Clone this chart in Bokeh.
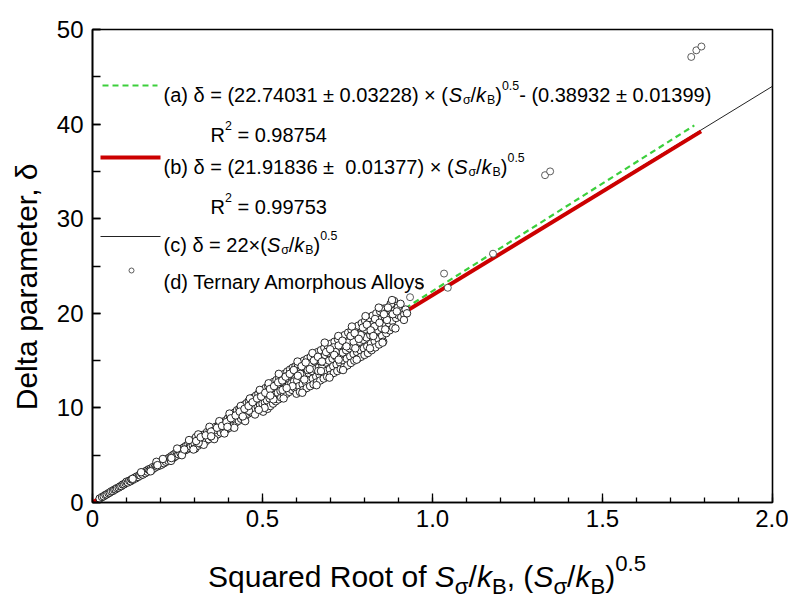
from bokeh.plotting import figure
from bokeh.models import Label, Range1d, FixedTicker, Div
from bokeh.layouts import column
from bokeh.embed import file_html
from bokeh.resources import INLINE

# ---------------- data ----------------
cluster_x = [
    0.021, 0.028, 0.033, 0.038, 0.042, 0.047, 0.051, 0.055, 0.060, 0.064, 0.068, 0.072, 0.077, 0.081, 0.085, 0.089, 0.093, 0.097, 0.100, 0.104,
    0.108, 0.112, 0.115, 0.119, 0.123, 0.127, 0.130, 0.134, 0.138, 0.141, 0.145, 0.148, 0.152, 0.155, 0.158, 0.162, 0.165, 0.168, 0.172, 0.175,
    0.178, 0.182, 0.186, 0.190, 0.194, 0.197, 0.200, 0.203, 0.206, 0.210, 0.213, 0.216, 0.220, 0.223, 0.226, 0.229, 0.232, 0.235, 0.238, 0.241,
    0.244, 0.247, 0.250, 0.253, 0.256, 0.259, 0.262, 0.265, 0.268, 0.271, 0.274, 0.277, 0.280, 0.283, 0.286, 0.289, 0.292, 0.295, 0.298, 0.300,
    0.302, 0.304, 0.307, 0.310, 0.312, 0.315, 0.318, 0.320, 0.323, 0.326, 0.329, 0.331, 0.334, 0.337, 0.340, 0.342, 0.345, 0.348, 0.351, 0.354,
    0.357, 0.360, 0.362, 0.365, 0.368, 0.371, 0.374, 0.377, 0.380, 0.383, 0.386, 0.389, 0.392, 0.395, 0.398, 0.400, 0.402, 0.404, 0.406, 0.409,
    0.411, 0.413, 0.416, 0.418, 0.420, 0.423, 0.425, 0.427, 0.430, 0.432, 0.434, 0.437, 0.439, 0.441, 0.444, 0.446, 0.448, 0.451, 0.453, 0.455,
    0.458, 0.460, 0.462, 0.465, 0.467, 0.469, 0.472, 0.474, 0.476, 0.479, 0.481, 0.483, 0.486, 0.488, 0.490, 0.493, 0.495, 0.497, 0.500, 0.502,
    0.503, 0.505, 0.507, 0.509, 0.511, 0.513, 0.515, 0.517, 0.519, 0.521, 0.523, 0.525, 0.527, 0.529, 0.531, 0.533, 0.535, 0.537, 0.539, 0.541,
    0.543, 0.545, 0.547, 0.549, 0.551, 0.553, 0.555, 0.557, 0.559, 0.561, 0.563, 0.565, 0.567, 0.569, 0.571, 0.573, 0.575, 0.577, 0.579, 0.581,
    0.583, 0.585, 0.587, 0.589, 0.591, 0.593, 0.595, 0.597, 0.599, 0.600, 0.602, 0.604, 0.606, 0.608, 0.610, 0.612, 0.614, 0.616, 0.618, 0.620,
    0.622, 0.624, 0.626, 0.628, 0.630, 0.632, 0.634, 0.636, 0.638, 0.640, 0.642, 0.644, 0.646, 0.648, 0.650, 0.652, 0.654, 0.656, 0.658, 0.660,
    0.662, 0.664, 0.666, 0.668, 0.670, 0.672, 0.674, 0.676, 0.678, 0.680, 0.682, 0.684, 0.686, 0.688, 0.690, 0.692, 0.694, 0.696, 0.698, 0.700,
    0.702, 0.704, 0.706, 0.708, 0.710, 0.712, 0.714, 0.716, 0.718, 0.720, 0.722, 0.724, 0.726, 0.728, 0.730, 0.732, 0.734, 0.736, 0.738, 0.740,
    0.742, 0.744, 0.746, 0.748, 0.750, 0.752, 0.754, 0.756, 0.758, 0.760, 0.762, 0.764, 0.766, 0.768, 0.770, 0.772, 0.774, 0.776, 0.778, 0.780,
    0.782, 0.784, 0.786, 0.788, 0.790, 0.792, 0.794, 0.796, 0.798, 0.800, 0.802, 0.804, 0.806, 0.808, 0.810, 0.813, 0.815, 0.817, 0.819, 0.821,
    0.824, 0.826, 0.828, 0.830, 0.832, 0.835, 0.837, 0.839, 0.841, 0.843, 0.846, 0.848, 0.850, 0.852, 0.855, 0.858, 0.860, 0.862, 0.864, 0.867,
    0.870, 0.872, 0.874, 0.877, 0.880, 0.882, 0.884, 0.887, 0.890, 0.893, 0.896, 0.900, 0.904, 0.908, 0.912, 0.917, 0.921, 0.848, 0.878, 0.898,
    0.916, 0.925,
    0.118, 0.143, 0.171, 0.188, 0.207, 0.231, 0.249, 0.263, 0.284, 0.297, 0.311, 0.327, 0.344, 0.358, 0.373, 0.388, 0.403, 0.417, 0.436, 0.449,
    0.463, 0.478, 0.492, 0.506, 0.518, 0.532, 0.548, 0.562, 0.576, 0.588, 0.603, 0.617, 0.633, 0.647, 0.659, 0.671, 0.683, 0.697, 0.709, 0.723,
    0.737, 0.751, 0.763, 0.777, 0.789, 0.803, 0.816, 0.829, 0.842, 0.853, 0.866, 0.881, 0.891, 0.906, 0.559, 0.611, 0.664, 0.715, 0.768, 0.820,
    0.460, 0.410, 0.357, 0.312, 0.270, 0.232, 0.191,
    0.305, 0.318, 0.333, 0.349, 0.366, 0.381, 0.394, 0.407, 0.421, 0.433, 0.447, 0.459, 0.471, 0.484, 0.496, 0.508, 0.522, 0.534, 0.546, 0.558,
    0.568, 0.580, 0.592, 0.604, 0.615, 0.627, 0.639, 0.651, 0.663, 0.675, 0.687, 0.699, 0.711, 0.724, 0.735, 0.747, 0.759, 0.771, 0.783, 0.795,
    0.807, 0.818, 0.831, 0.844, 0.857, 0.869, 0.883, 0.895, 0.523, 0.571, 0.623, 0.672, 0.724, 0.773, 0.826, 0.861, 0.489, 0.442, 0.397, 0.349,
]
cluster_y = [
    0.42, 0.58, 0.66, 0.80, 0.86, 0.98, 1.05, 1.18, 1.22, 1.36, 1.40, 1.52, 1.58, 1.70, 1.74, 1.90, 1.92, 2.05, 2.20, 2.12,
    2.30, 2.25, 2.45, 2.40, 2.60, 2.55, 2.75, 2.70, 2.90, 2.85, 3.05, 2.95, 3.20, 3.10, 3.35, 3.25, 3.50, 3.40, 3.60, 3.45,
    3.75, 3.65, 3.90, 3.80, 4.05, 3.90, 4.20, 4.00, 4.35, 4.15, 4.50, 4.30, 4.60, 4.40, 4.75, 4.55, 4.90, 4.65, 5.05, 4.80,
    5.20, 4.95, 5.35, 5.10, 5.50, 5.20, 5.65, 5.35, 5.80, 5.50, 5.95, 5.60, 6.10, 5.75, 6.25, 5.90, 6.45, 6.05, 6.60, 6.25,
    5.70, 6.90, 6.40, 6.00, 6.75, 6.50, 6.20, 7.10, 6.70, 6.35, 7.20, 6.85, 6.50, 7.45, 7.00, 6.70, 7.60, 7.20, 6.90, 7.80,
    7.35, 7.00, 8.00, 7.55, 7.20, 8.20, 7.75, 7.40, 8.45, 7.95, 7.55, 8.60, 8.15, 7.75, 8.90, 8.35, 7.90, 9.10, 8.60, 8.10,
    9.30, 8.75, 8.30, 9.50, 8.95, 8.50, 9.75, 9.10, 8.65, 9.90, 9.30, 8.85, 10.10, 9.50, 9.00, 10.30, 9.70, 9.20, 10.50, 9.90,
    9.40, 10.75, 10.10, 9.55, 10.90, 10.30, 9.75, 11.10, 10.50, 9.95, 11.30, 10.65, 10.10, 11.50, 10.85, 10.30, 11.70, 11.00, 10.45, 9.60,
    11.90, 11.20, 10.60, 12.10, 11.40, 10.80, 9.90, 12.30, 11.60, 11.00, 10.20, 12.50, 11.80, 11.20, 10.45, 12.75, 12.00, 11.40, 10.70, 12.95,
    12.20, 11.60, 10.90, 13.20, 12.45, 11.80, 11.10, 13.40, 12.70, 12.00, 11.30, 13.60, 12.90, 12.20, 11.50, 13.85, 13.10, 12.40, 11.70, 14.05,
    13.30, 12.60, 11.90, 14.25, 13.50, 12.80, 12.10, 14.40, 13.70, 11.50, 12.90, 14.60, 13.90, 12.30, 11.70, 14.80, 14.10, 13.20, 12.50, 11.90,
    15.00, 14.30, 13.50, 12.70, 12.10, 15.20, 14.50, 13.70, 12.90, 12.30, 15.40, 14.70, 13.90, 13.10, 12.50, 15.65, 14.90, 14.10, 13.30, 12.70,
    15.90, 15.10, 14.30, 13.50, 12.90, 16.10, 15.30, 14.50, 13.70, 13.10, 16.35, 15.60, 14.80, 13.90, 13.30, 16.55, 15.80, 15.00, 14.10, 13.50,
    16.80, 16.00, 15.20, 14.40, 13.70, 17.00, 16.20, 15.40, 14.60, 13.90, 17.25, 16.45, 15.60, 14.80, 14.10, 17.50, 16.70, 15.85, 15.00, 14.30,
    17.70, 16.90, 16.10, 15.20, 14.50, 17.95, 17.10, 16.30, 15.45, 14.75, 18.20, 17.35, 16.50, 15.70, 15.00, 18.45, 17.60, 16.75, 15.90, 15.20,
    18.70, 17.85, 17.00, 16.10, 15.40, 18.95, 18.10, 17.20, 16.30, 15.60, 19.20, 18.30, 17.45, 16.50, 15.80, 19.50, 18.60, 17.70, 16.80, 16.10,
    19.75, 18.85, 17.95, 17.05, 16.40, 20.00, 19.10, 18.20, 17.30, 16.70, 20.20, 19.35, 18.45, 17.60, 17.00, 20.50, 19.60, 18.70, 17.90, 20.30,
    19.85, 18.95, 18.20, 21.00, 20.10, 19.20, 18.50, 21.30, 20.35, 19.50, 20.80, 19.80, 20.50, 19.60, 20.30, 19.90, 20.40, 20.50, 21.00, 20.60,
    19.30, 20.00,
    2.50, 3.20, 3.30, 4.30, 4.60, 4.40, 5.70, 5.00, 6.60, 5.60, 7.20, 6.10, 8.00, 6.70, 8.60, 7.30, 9.40, 7.90, 10.20, 8.60,
    11.00, 9.30, 11.90, 10.00, 12.60, 10.90, 13.60, 11.00, 13.40, 12.30, 14.90, 11.60, 14.00, 15.80, 12.40, 14.90, 16.90, 13.20, 16.40, 17.60,
    14.00, 16.90, 18.60, 15.10, 17.70, 19.70, 16.30, 18.60, 20.60, 16.90, 19.30, 21.40, 18.40, 21.00, 11.90, 13.60, 13.90, 15.90, 17.00, 18.10,
    9.70, 8.80, 7.60, 6.30, 5.60, 4.70, 3.95,
    6.50, 6.90, 7.10, 7.50, 7.90, 8.10, 8.50, 8.90, 9.20, 9.60, 9.90, 10.20, 10.60, 11.00, 11.20, 11.60, 12.00, 12.30, 12.70, 12.90,
    13.30, 13.60, 14.00, 13.40, 14.40, 14.80, 14.10, 15.00, 15.40, 14.90, 15.90, 16.20, 15.60, 16.60, 17.10, 16.50, 17.60, 17.90, 17.30, 18.50,
    18.80, 18.20, 19.40, 19.00, 19.90, 20.60, 19.90, 20.20, 11.30, 12.10, 13.00, 13.90, 15.10, 16.30, 17.60, 18.30, 9.80, 9.10, 8.00, 7.00,
]
outlier_x = [0.934, 0.963, 1.034, 1.045, 1.178, 1.331, 1.346, 1.761, 1.776, 1.791]
outlier_y = [21.7, 22.9, 24.2, 22.7, 26.3, 34.6, 35.0, 47.1, 47.8, 48.2]

# fit lines (a), (b), (c): end points
fit_a_x = [0.0, 1.77]
fit_a_y = [-0.39, 39.86]
fit_b_x = [0.0, 1.79]
fit_b_y = [0.0, 39.23]
fit_c_x = [0.0, 2.0]
fit_c_y = [0.0, 44.0]

x_ticks = [0, 0.5, 1.0, 1.5, 2.0]
x_tick_labels = ["0", "0.5", "1.0", "1.5", "2.0"]
y_ticks = [0, 10, 20, 30, 40, 50]
y_tick_labels = ["0", "10", "20", "30", "40", "50"]

X0, X1, Y0, Y1 = 0.0, 2.0, 0.0, 50.0

# ---------------- layout geometry (canvas pixels) ----------------
W, H = 788, 601
BH = 60            # strip holding the x title
MH = H - BH
ML, MR, MT, MB = 92, 16, 29, 39
FW, FH = W - ML - MR, MH - MT - MB

GREEN = "#3ccf3c"
RED = "#cc0000"
DARK = "#222222"
NB = "\u00a0"

p = figure(width=W, height=MH, output_backend="svg", toolbar_location=None, title=None,
           x_range=Range1d(X0, X1), y_range=Range1d(Y0, Y1),
           min_border_left=ML, min_border_right=MR, min_border_top=MT, min_border_bottom=MB)
p.background_fill_color = "white"
p.border_fill_color = "white"
p.outline_line_color = "black"
p.outline_line_width = 1.6
p.xgrid.visible = False
p.ygrid.visible = False

p.xaxis.ticker = FixedTicker(ticks=x_ticks, minor_ticks=[i / 10 for i in range(0, 21)])
p.xaxis.major_label_overrides = dict(zip(x_ticks, x_tick_labels))
p.yaxis.ticker = FixedTicker(ticks=y_ticks, minor_ticks=[i * 5 for i in range(0, 11)])
p.yaxis.major_label_overrides = dict(zip(y_ticks, y_tick_labels))
for ax in (p.xaxis[0], p.yaxis[0]):
    ax.axis_line_color = "black"
    ax.axis_line_width = 1.6
    ax.major_tick_line_color = "black"
    ax.minor_tick_line_color = "black"
    ax.major_tick_line_width = 1.3
    ax.minor_tick_line_width = 1.3
    ax.major_tick_out = 0
    ax.minor_tick_out = 0
    ax.major_label_text_font = "Liberation Sans"
    ax.major_label_text_font_size = "24px"
    ax.major_label_text_color = "black"
p.xaxis.major_tick_in = 9
p.xaxis.minor_tick_in = 5
p.yaxis.major_tick_in = 8
p.yaxis.minor_tick_in = 8
p.xaxis.major_label_standoff = 7
p.yaxis.major_label_standoff = 9

# y title (trailing no-break spaces push the visible text below the frame centre, as in the original)
p.yaxis.axis_label = "Delta parameter, δ" + NB * 5
p.yaxis.axis_label_text_font = "Liberation Sans"
p.yaxis.axis_label_text_font_size = "30px"
p.yaxis.axis_label_text_font_style = "normal"
p.yaxis.axis_label_text_color = "black"
p.yaxis.axis_label_standoff = 11


def dx(px):
    return X0 + (px - ML) / FW * (X1 - X0)


def dy(py):
    return Y0 + (MT + FH - py) / FH * (Y1 - Y0)


# ---------------- marks ----------------
p.line(fit_c_x, fit_c_y, line_color=DARK, line_width=1)
p.line(fit_b_x, fit_b_y, line_color=RED, line_width=4)
p.line(fit_a_x, fit_a_y, line_color=GREEN, line_width=2.2, line_dash="6 4")
p.scatter(cluster_x, cluster_y, size=7.5, marker="circle", fill_color="white",
          line_color="#111111", line_width=0.9)
p.scatter(outlier_x, outlier_y, size=7, marker="circle", fill_color="white",
          line_color="#333333", line_width=0.8)

# ---------------- rich text helper ----------------
AW = {' ': 278, NB: 278, '(': 333, ')': 333, '+': 584, ',': 278, '-': 333, '.': 278, '/': 278, '=': 584,
      '±': 584, '×': 584, 'δ': 556, 'σ': 600,
      'A': 667, 'B': 667, 'D': 722, 'R': 722, 'S': 667, 'T': 611,
      'a': 556, 'b': 556, 'c': 500, 'd': 556, 'e': 556, 'f': 278, 'h': 556, 'k': 500, 'l': 222,
      'm': 833, 'n': 556, 'o': 556, 'p': 556, 'q': 556, 'r': 333, 's': 500, 't': 278, 'u': 556, 'y': 500}


def tw(s):
    return sum(AW.get(ch, 556) for ch in s) / 1000.0


def rich(fig, segments, x0, y0, size, font="Liberation Sans", small=0.62):
    cur = 0.0
    for txt, kind in segments:
        fs = size * small if kind in ("sub", "sup") else size
        shift = {"n": 0, "i": 0, "sub": -0.26 * size, "sup": 0.47 * size}[kind]
        fig.add_layout(Label(x=x0, y=y0, x_offset=cur, y_offset=shift, text=txt,
                             text_font=font, text_font_size=f"{fs:.1f}px",
                             text_font_style="italic" if kind == "i" else "normal",
                             text_baseline="alphabetic", text_align="left", text_color="black"))
        cur += tw(txt) * fs
        if kind == "i":
            cur += 0.05 * fs


SKB = [("S", "i"), ("σ", "sub"), ("/", "n"), ("k", "i"), ("B", "sub")]

# ---------------- legend (inside the frame) ----------------
LS = 20
TX = 163
rich(p, [("(a) δ = (22.74031 ± 0.03228) × (", "n")] + SKB + [(")", "n"), ("0.5", "sup"),
     ("- (0.38932 ± 0.01399)", "n")], dx(TX), dy(94), LS)
rich(p, [("R", "n"), ("2", "sup"), (NB + "= 0.98754", "n")], dx(210), dy(134), LS)
rich(p, [("(b) δ = (21.91836 ±" + NB + " 0.01377) × (", "n")] + SKB + [(")", "n"), ("0.5", "sup")],
     dx(TX), dy(166), LS)
rich(p, [("R", "n"), ("2", "sup"), (NB + "= 0.99753", "n")], dx(210), dy(206), LS)
rich(p, [("(c) δ = 22×(", "n")] + SKB + [(")", "n"), ("0.5", "sup")], dx(TX), dy(244), LS)
rich(p, [("(d) Ternary Amorphous Alloys", "n")], dx(TX), dy(281), LS)

p.line([dx(102), dx(157)], [dy(85), dy(85)], line_color=GREEN, line_width=2.2, line_dash="6 4")
p.line([dx(100), dx(160)], [dy(157), dy(157)], line_color=RED, line_width=4)
p.line([dx(100), dx(160)], [dy(236), dy(236)], line_color=DARK, line_width=1)
p.scatter([dx(131)], [dy(270)], size=5, marker="circle", fill_color="white",
          line_color="#333333", line_width=0.8)

# ---------------- x title (rich text, real HTML text) ----------------
SKB_HTML = "<i>S</i><sub>σ</sub>/<i>k</i><sub>B</sub>"
x_title_html = (
    "<div style=\"font-family:'Liberation Sans',Arial,sans-serif;font-size:30px;line-height:30px;"
    "color:black;white-space:nowrap;padding-left:208px;padding-top:21px;\">"
    "<style>sub,sup{font-size:0.74em;line-height:0;}sub{vertical-align:-0.3em;}sup{vertical-align:0.72em;}</style>"
    "Squared Root of " + SKB_HTML + ", (" + SKB_HTML + ")<sup>0.5</sup></div>"
)
x_title = Div(text=x_title_html, width=W, height=BH, margin=0)

layout = column(p, x_title, spacing=0)
open("out.html", "w").write(file_html(layout, INLINE))
